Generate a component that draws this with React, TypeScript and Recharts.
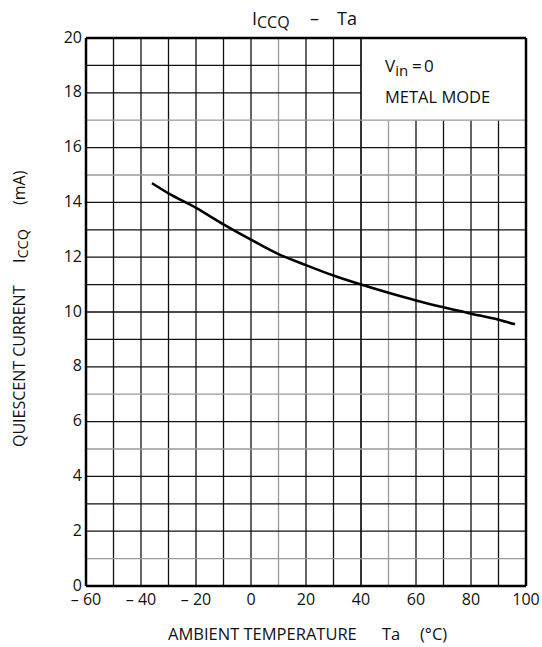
import React from 'react'
import { LineChart, Line, XAxis, YAxis, ReferenceLine } from 'recharts'

// ICCQ vs Ta curve (Vin = 0, metal mode)
const temps = [-36, -30, -20, -10, 0, 10, 20, 30, 40, 50, 60, 70, 80, 90, 96]
const currents = [14.7, 14.33, 13.8, 13.2, 12.64, 12.11, 11.71, 11.33, 11.0, 10.7, 10.42, 10.17, 9.94, 9.72, 9.55]

const xTicks = [-60, -40, -20, 0, 20, 40, 60, 80, 100]
const yTicks = [0, 2, 4, 6, 8, 10, 12, 14, 16, 18, 20]

// inner grid lines; some printed lighter
const xGrid = [-50, -40, -30, -20, -10, 0, 10, 20, 30, 40, 50, 60, 70, 80, 90]
const yGrid = [1, 2, 3, 4, 5, 6, 7, 8, 9, 10, 11, 12, 13, 14, 15, 16, 17, 18, 19]
const lightX = [10, 50]
const lightY = [1, 5, 7, 15, 17]

// note box in the top-right corner (no grid inside)
const boxLeft = 40
const boxBottom = 17

const data = temps.map((t, i) => ({ temp: t, current: currents[i] }))

const FONT = '"Open Sans", "Noto Sans", sans-serif'
const DARK = '#111'
const LIGHT = '#9a9a9a'

const fmtX = (v: number) => (v < 0 ? `\u2013 ${-v}` : `${v}`)

export default function App() {
  return (
    <div style={{ position: 'absolute', left: 0, top: 0, width: 542, height: 647, background: '#fff' }}>
      <LineChart
        width={542}
        height={647}
        data={data}
        margin={{ top: 38, right: 16, bottom: 0, left: 0 }}
      >
        <XAxis
          dataKey="temp"
          type="number"
          domain={[-60, 100]}
          ticks={xTicks}
          tickFormatter={fmtX}
          axisLine={false}
          tickLine={false}
          height={61}
          tickSize={5}
          tickMargin={3}
          tick={{ fill: '#111', fontSize: 16, fontFamily: FONT }}
          interval={0}
        />
        <YAxis
          type="number"
          domain={[0, 20]}
          ticks={yTicks}
          axisLine={false}
          tickLine={false}
          width={86}
          tickSize={2}
          tickMargin={2}
          tick={{ fill: '#111', fontSize: 16, fontFamily: FONT, dy: -1 }}
          interval={0}
        />
        {xGrid.map((x) => (
          <ReferenceLine
            key={`vx${x}`}
            segment={[
              { x, y: 0 },
              { x, y: x > boxLeft ? boxBottom : 20 },
            ]}
            stroke={lightX.includes(x) ? LIGHT : DARK}
            strokeWidth={x === boxLeft ? 1.7 : 1.3}
          />
        ))}
        {yGrid.map((y) => (
          <ReferenceLine
            key={`hy${y}`}
            segment={[
              { x: -60, y },
              { x: y > boxBottom ? boxLeft : 100, y },
            ]}
            stroke={lightY.includes(y) ? LIGHT : DARK}
            strokeWidth={1.3}
          />
        ))}
        <ReferenceLine x={-60} stroke="#000" strokeWidth={2.5} />
        <ReferenceLine x={100} stroke="#000" strokeWidth={2.5} />
        <ReferenceLine y={0} stroke="#000" strokeWidth={2.5} />
        <ReferenceLine y={20} stroke="#000" strokeWidth={2.5} />
        <Line
          dataKey="current"
          type="monotone"
          stroke="#000"
          strokeWidth={2.6}
          dot={false}
          isAnimationActive={false}
        />
      </LineChart>
      <svg
        width={542}
        height={647}
        style={{ position: 'absolute', left: 0, top: 0, pointerEvents: 'none' }}
        fontFamily={FONT}
        fill="#111"
      >
        <text y={25} fontSize={18}>
          <tspan x={252}>I</tspan>
          <tspan fontSize={16} dy={3}>CCQ</tspan>
          <tspan x={310} dy={-3}>{'\u2013'}</tspan>
          <tspan x={337}>Ta</tspan>
        </text>
        <text y={72} fontSize={17}>
          <tspan x={385}>V</tspan>
          <tspan fontSize={15} dy={4}>in</tspan>
          <tspan x={412} dy={-4}>=</tspan>
          <tspan x={424}>0</tspan>
        </text>
        <text x={385} y={103} fontSize={16.5}>
          METAL MODE
        </text>
        <text y={640} fontSize={16.5}>
          <tspan x={168}>AMBIENT TEMPERATURE</tspan>
          <tspan x={382}>Ta</tspan>
          <tspan x={420}>(°C)</tspan>
        </text>
        <text transform="translate(25,447) rotate(-90)" fontSize={16}>
          <tspan x={0}>QUIESCENT CURRENT</tspan>
          <tspan x={184}>I</tspan>
          <tspan fontSize={14.5} dy={3}>CCQ</tspan>
          <tspan x={242} dy={-3}>(mA)</tspan>
        </text>
      </svg>
    </div>
  )
}
